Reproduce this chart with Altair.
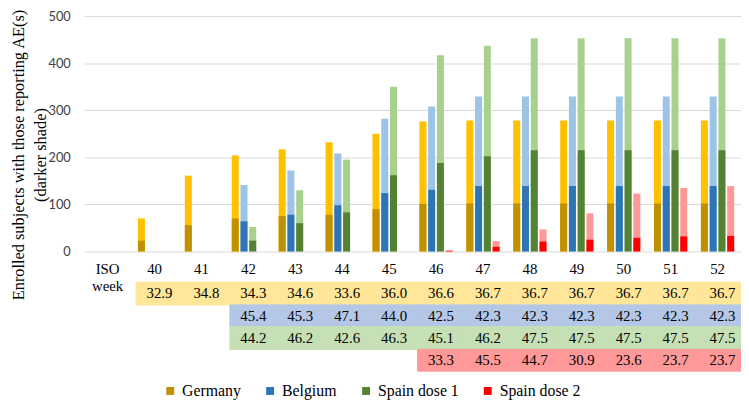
import altair as alt
import pandas as pd

# ---------------- data ----------------
weeks = ["40", "41", "42", "43", "44", "45", "46", "47", "48", "49", "50", "51", "52"]
series = ["Germany", "Belgium", "Spain dose 1", "Spain dose 2"]
first_week = {"Germany": "40", "Belgium": "42", "Spain dose 1": "42", "Spain dose 2": "46"}

germany_enrolled = [70, 161, 204, 217, 232, 250, 276, 278, 278, 278, 278, 278, 278]
germany_ae = [23, 56, 70, 75, 78, 90, 101, 102, 102, 102, 102, 102, 102]
belgium_enrolled = [141, 172, 208, 282, 308, 329, 329, 329, 329, 329, 329]
belgium_ae = [64, 78, 98, 124, 131, 139, 139, 139, 139, 139, 139]
spain1_enrolled = [52, 130, 195, 350, 417, 437, 453, 453, 453, 453, 453]
spain1_ae = [23, 60, 83, 162, 188, 202, 215, 215, 215, 215, 215]
spain2_enrolled = [3, 22, 47, 81, 123, 135, 139]
spain2_ae = [1, 10, 21, 25, 29, 32, 33]

germany_pct = [32.9, 34.8, 34.3, 34.6, 33.6, 36.0, 36.6, 36.7, 36.7, 36.7, 36.7, 36.7, 36.7]
belgium_pct = [45.4, 45.3, 47.1, 44.0, 42.5, 42.3, 42.3, 42.3, 42.3, 42.3, 42.3]
spain1_pct = [44.2, 46.2, 42.6, 46.3, 45.1, 46.2, 47.5, 47.5, 47.5, 47.5, 47.5]
spain2_pct = [33.3, 45.5, 44.7, 30.9, 23.6, 23.7, 23.7]

iso_label = "ISO\nweek"
x_cats = [iso_label] + weeks

dark_colors = ["#BF9000", "#2E75B6", "#548235", "#FF0000"]
light_colors = ["#FFC000", "#9DC3E6", "#A9D18E", "#FF9999"]
row_colors = ["#FFE699", "#B4C7E7", "#C5E0B4", "#FF9999"]

enrolled = {"Germany": germany_enrolled, "Belgium": belgium_enrolled,
            "Spain dose 1": spain1_enrolled, "Spain dose 2": spain2_enrolled}
ae = {"Germany": germany_ae, "Belgium": belgium_ae,
      "Spain dose 1": spain1_ae, "Spain dose 2": spain2_ae}
pct = {"Germany": germany_pct, "Belgium": belgium_pct,
       "Spain dose 1": spain1_pct, "Spain dose 2": spain2_pct}

rows = []
for s in series:
    start = weeks.index(first_week[s])
    for i, (e, a, p) in enumerate(zip(enrolled[s], ae[s], pct[s])):
        rows.append({"week": weeks[start + i], "series": s, "enrolled": e,
                     "ae": a, "pct": f"{p:.1f}"})
df = pd.DataFrame(rows)
labels_df = pd.DataFrame({"week": x_cats})

# ---------------- layout ----------------
W, H = 664, 238
serif = "Liberation Serif, Times New Roman, serif"

x_enc = alt.X("week:N", scale=alt.Scale(domain=x_cats, paddingInner=0, paddingOuter=0),
              axis=None)
xoff = alt.XOffset("series:N", scale=alt.Scale(domain=series, paddingInner=0.2,
                                               paddingOuter=0.78))

y_axis = alt.Axis(values=list(range(0, 501, 50)), grid=True, gridColor="#D9D9D9",
                  domain=False, ticks=False, labelPadding=14, labelFont="Lato",
                  labelFontSize=13, labelColor="#404040",
                  title=["Enrolled subjects with those reporting AE(s)", "(darker shade)"],
                  titleFont=serif, titleFontSize=16.5, titleFontWeight="normal",
                  titleColor="black", titleAngle=270, titleX=-61, titleY=140,
                  titleAlign="center", titleBaseline="alphabetic", titleLineHeight=22)

light = alt.Chart(df).mark_bar().encode(
    x=x_enc, xOffset=xoff,
    y=alt.Y("enrolled:Q", scale=alt.Scale(domain=[0, 500], nice=False), axis=y_axis),
    fill=alt.Fill("series:N", scale=alt.Scale(domain=series, range=light_colors),
                  legend=None),
)

dark = alt.Chart(df).mark_bar().encode(
    x=x_enc, xOffset=xoff,
    y=alt.Y("ae:Q"),
    color=alt.Color("series:N", scale=alt.Scale(domain=series, range=dark_colors),
                    legend=alt.Legend(orient="none", legendX=79, legendY=371,
                                      direction="horizontal", title=None,
                                      symbolType="square", symbolSize=64,
                                      symbolStrokeWidth=0, labelFont=serif,
                                      labelFontSize=16, labelColor="black",
                                      columnPadding=21, labelOffset=4)),
)

week_text = alt.Chart(labels_df).mark_text(
    font=serif, fontSize=15, color="black", baseline="alphabetic",
    lineBreak="\n", lineHeight=17,
).encode(x=x_enc, y=alt.value(261), text="week:N")

row_tops = [269, 292, 314, 337]
row_bottoms = [292, 314, 337, 359]
table_layers = []
for s, c, t, b in zip(series, row_colors, row_tops, row_bottoms):
    sub = df[df["series"] == s]
    cells = alt.Chart(sub).mark_rect(fill=c, stroke=c, strokeWidth=1, xOffset=5).encode(
        x=x_enc, y=alt.value(t), y2=alt.value(b))
    vals = alt.Chart(sub).mark_text(font=serif, fontSize=15, color="black",
                                    baseline="middle", xOffset=5).encode(
        x=x_enc, y=alt.value((t + b) / 2), text="pct:N")
    table_layers += [cells, vals]

chart = alt.layer(light, dark, week_text, *table_layers).resolve_scale(
    color="independent", fill="independent"
).properties(
    width=W, height=H,
    autosize=alt.AutoSizeParams(type="none"),
    padding={"left": 77, "top": 6, "right": 0, "bottom": 148},
    background="white",
).configure_view(stroke=None)

chart.save("out.html", embed_options={"renderer": "svg", "actions": False})
